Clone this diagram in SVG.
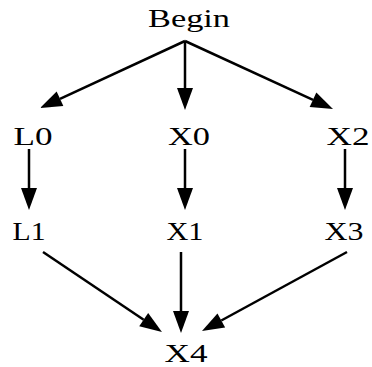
<svg xmlns="http://www.w3.org/2000/svg" width="372" height="367" viewBox="0 0 372 367">
<style>
.lbl{font-family:"Liberation Serif","Times New Roman",Times,serif;font-size:26px;fill:#000;text-anchor:middle}
.edge{stroke:#000;stroke-width:2.5;fill:none;marker-end:url(#arr)}
</style>
<defs>
<marker id="arr" markerUnits="userSpaceOnUse" markerWidth="22" markerHeight="16" refX="0" refY="8" orient="auto" overflow="visible">
<path d="M0,0 L22,8 L0,16 z" fill="#000"/>
</marker>
</defs>
<rect width="372" height="367" fill="#fff"/>
<g id="edges">
<path class="edge" d="M185,41 L60,98.8"/>
<path class="edge" d="M185,41 L185,88"/>
<path class="edge" d="M185,41 L313,99.8"/>
<path class="edge" d="M29,149 L29,188"/>
<path class="edge" d="M185,149 L185,188"/>
<path class="edge" d="M345,149 L345,188"/>
<path class="edge" d="M43,252 L143.7,319.7"/>
<path class="edge" d="M181,252 L181,311"/>
<path class="edge" d="M347,252 L221.3,320.5"/>
</g>
<g id="Begin"><text class="lbl" x="189" y="27" textLength="82" lengthAdjust="spacingAndGlyphs">Begin</text></g>
<g id="L0"><text class="lbl" x="33" y="145" textLength="39" lengthAdjust="spacingAndGlyphs">L0</text></g>
<g id="X0"><text class="lbl" x="189" y="145" textLength="42" lengthAdjust="spacingAndGlyphs">X0</text></g>
<g id="X2"><text class="lbl" x="348" y="145" textLength="43" lengthAdjust="spacingAndGlyphs">X2</text></g>
<g id="L1"><text class="lbl" x="29" y="240" textLength="33" lengthAdjust="spacingAndGlyphs">L1</text></g>
<g id="X1"><text class="lbl" x="185" y="240" textLength="37" lengthAdjust="spacingAndGlyphs">X1</text></g>
<g id="X3"><text class="lbl" x="344" y="240" textLength="39" lengthAdjust="spacingAndGlyphs">X3</text></g>
<g id="X4"><text class="lbl" x="186" y="362" textLength="43" lengthAdjust="spacingAndGlyphs">X4</text></g>
</svg>
